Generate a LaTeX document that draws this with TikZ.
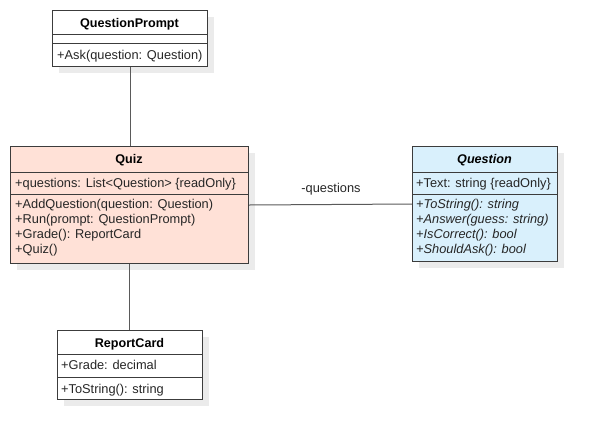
\documentclass[tikz,border=0pt]{standalone}
\usepackage{fontspec}
\setmainfont{Liberation Sans}
\definecolor{linec}{HTML}{3C3C3C}
\definecolor{conn}{HTML}{5A5A5A}
\definecolor{shade}{HTML}{EBEBEB}
\definecolor{quizfill}{HTML}{FFE1D7}
\definecolor{qfill}{HTML}{D9F0FC}
\begin{document}
\begin{tikzpicture}[x=1pt,y=-1pt,
  every node/.style={font=\fontsize{12.8}{15}\selectfont},
  classbox/.style={draw=linec, line width=1pt, rectangle, inner sep=0pt, anchor=north west},
  shadowbox/.style={fill=shade, draw=none, rectangle, inner sep=0pt, anchor=north west},
  sep/.style={draw=linec, line width=1pt},
  member/.style={anchor=base west, inner sep=0pt, text=black!85},
  title/.style={anchor=base, inner sep=0pt, font=\fontsize{12.6}{15}\selectfont\bfseries},
  conline/.style={draw=conn, line width=1pt}]
\useasboundingbox (0,0) rectangle (597,440);
\fill[white] (0,0) rectangle (597,440);

% shadows
\node[shadowbox, minimum width=155pt, minimum height=56pt] (qpsh) at (59,17) {};
\node[shadowbox, minimum width=238pt, minimum height=117pt] (quizsh) at (17,153) {};
\node[shadowbox, minimum width=145pt, minimum height=115pt] (qsh) at (419,153) {};
\node[shadowbox, minimum width=145pt, minimum height=69pt] (rcsh) at (64,337) {};

% QuestionPrompt
\node[classbox, fill=white, minimum width=155pt, minimum height=56pt] (qp) at (52,10) {};
\draw[sep] (52,34) -- (207,34);
\draw[sep] (52,43) -- (207,43);
\node[title] (qpt) at (129.5,27) {QuestionPrompt};
\node[member] (qpm1) at (57,59) {+Ask(question: Question)};

% Quiz
\node[classbox, fill=quizfill, minimum width=238pt, minimum height=117pt] (quiz) at (10,146) {};
\draw[sep] (10,172) -- (248,172);
\draw[sep] (10,194) -- (248,194);
\node[title] (quizt) at (129,163) {Quiz};
\node[member] (quiza1) at (15,187) {+questions: List<Question> \{readOnly\}};
\node[member] (quizm1) at (15,208) {+AddQuestion(question: Question)};
\node[member] (quizm2) at (15,223) {+Run(prompt: QuestionPrompt)};
\node[member] (quizm3) at (15,238) {+Grade(): ReportCard};
\node[member] (quizm4) at (15,253) {+Quiz()};

% Question
\node[classbox, fill=qfill, minimum width=145pt, minimum height=115pt] (question) at (412,146) {};
\draw[sep] (412,172) -- (557,172);
\draw[sep] (412,194) -- (557,194);
\node[title, font=\fontsize{12.6}{15}\selectfont\bfseries\itshape] (qt) at (484.5,163) {Question};
\node[member] (qa1) at (416,187) {+Text: string \{readOnly\}};
\node[member, font=\fontsize{12.8}{15}\selectfont\itshape] (qm1) at (416,208) {+ToString(): string};
\node[member, font=\fontsize{12.8}{15}\selectfont\itshape] (qm2) at (416,223) {+Answer(guess: string)};
\node[member, font=\fontsize{12.8}{15}\selectfont\itshape] (qm3) at (416,238) {+IsCorrect(): bool};
\node[member, font=\fontsize{12.8}{15}\selectfont\itshape] (qm4) at (416,253) {+ShouldAsk(): bool};

% ReportCard
\node[classbox, fill=white, minimum width=145pt, minimum height=69pt] (rc) at (57,330) {};
\draw[sep] (57,354) -- (202,354);
\draw[sep] (57,377) -- (202,377);
\node[title] (rct) at (129.5,347) {ReportCard};
\node[member] (rca1) at (61,369) {+Grade: decimal};
\node[member] (rcm1) at (61,393) {+ToString(): string};

% connectors
\draw[conline] (qp.south) -- (qp.south |- quiz.north);
\draw[conline] (quiz.south) -- (quiz.south |- rc.north);
\draw[conline] (quiz.east) -- (question.west);
\node[anchor=base, inner sep=0pt, text=black!85] (lbl) at (331,192) {-questions};
\end{tikzpicture}
\end{document}
